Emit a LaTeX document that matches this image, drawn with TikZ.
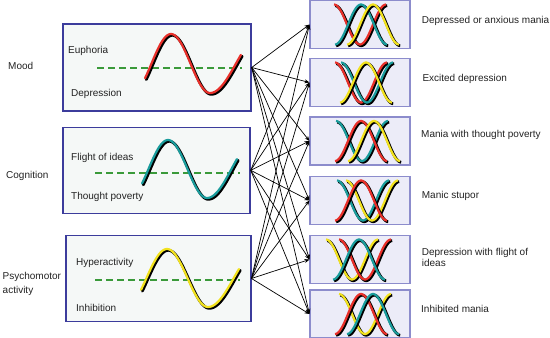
\documentclass[tikz,border=0pt]{standalone}
\usepackage{fontspec}
\setmainfont{Liberation Sans}
\usetikzlibrary{arrows.meta}
\definecolor{wred}{HTML}{E8302A}
\definecolor{wteal}{HTML}{1A9C9C}
\definecolor{wyel}{HTML}{F2E21E}
\definecolor{lborder}{HTML}{3C3C9C}
\definecolor{lfill}{HTML}{F5F8F7}
\definecolor{rborder}{HTML}{8C8CCC}
\definecolor{rfill}{HTML}{ECECF8}
\definecolor{dgreen}{HTML}{3A9A3A}
\definecolor{txt}{HTML}{222222}
\newcommand{\lwave}[8]{%
  \draw[line width=2.8pt, black, line cap=round, shift={(1.3,1.3)}]
    plot[domain=#6:270,samples=60] ({#2+(\x-90)/180*#3},{#4-#5*sin(\x)})
    -- plot[domain=0:#8,samples=30] ({#2+#3+\x/90*#7},{#4+#5*cos(\x)});
  \draw[line width=2.2pt, #1, line cap=round]
    plot[domain=#6:270,samples=60] ({#2+(\x-90)/180*#3},{#4-#5*sin(\x)})
    -- plot[domain=0:#8,samples=30] ({#2+#3+\x/90*#7},{#4+#5*cos(\x)});
}
\newcommand{\rwave}[4]{%
  \draw[line width=2.8pt, black, shift={(1.2,1.2)}]
    plot[domain=0:360,samples=50] ({#2+\x/360*52},{#3+(#4)*20*cos(\x)});
  \draw[line width=2.2pt, #1]
    plot[domain=0:360,samples=50] ({#2+\x/360*52},{#3+(#4)*20*cos(\x)});
}
\tikzset{
  lbl/.style={anchor=west, inner sep=0pt, text=txt, font=\fontsize{10}{12}\selectfont},
  lbox/.style={draw=lborder, line width=1.4pt, fill=lfill, inner sep=0pt},
  rbox/.style={draw=rborder, line width=1.1pt, fill=rfill, inner sep=0pt,
    minimum width=100pt, minimum height=48pt},
  mid/.style={draw=dgreen, line width=1.3pt, dash pattern=on 7pt off 4pt},
  arr/.style={-{Stealth[length=5pt,width=4pt]}, line width=0.7pt, black}
}
\begin{document}
\begin{tikzpicture}[x=1pt,y=-1pt]
\useasboundingbox (0,0) rectangle (550,338);
% left boxes
\node[lbox, minimum width=188pt, minimum height=87pt] (L1) at (157,67.5) {};
\node[lbox, minimum width=187pt, minimum height=86pt] (L2) at (156.5,170.3) {};
\node[lbox, minimum width=185pt, minimum height=86pt] (L3) at (158.3,278.5) {};
% right boxes
\node[rbox] (R1) at (360,24.5) {};
\node[rbox] (R2) at (360,82.5) {};
\node[rbox] (R3) at (360,141) {};
\node[rbox] (R4) at (360,200.5) {};
\node[rbox] (R5) at (360,259.5) {};
\node[rbox] (R6) at (360,314) {};
% dashed midlines
\coordinate (d1a) at (97,68); \coordinate (d1b) at (242,68);
\coordinate (d2a) at (95,173); \coordinate (d2b) at (240,173);
\coordinate (d3a) at (95,280); \coordinate (d3b) at (240,280);
\draw[mid] (d1a) -- (d1b);
\draw[mid] (d2a) -- (d2b);
\draw[mid] (d3a) -- (d3b);
% left waves
\lwave{wred}{171}{39}{63.5}{29.5}{-30}{26}{107}
\lwave{wteal}{168}{39}{169}{29}{-30}{24.5}{110}
\lwave{wyel}{167}{41}{278}{29}{-24}{25.8}{108}
% right waves
\rwave{wred}{334}{24.5}{-1}
\rwave{wteal}{335}{24.5}{1}
\rwave{wyel}{347}{24.5}{1}
\rwave{wred}{335}{82.5}{-1}
\rwave{wteal}{341}{82.5}{-1}
\rwave{wyel}{340}{82.5}{1}
\rwave{wteal}{336}{141}{-1}
\rwave{wred}{335}{141}{1}
\rwave{wyel}{348}{141}{1}
\rwave{wteal}{337}{200.5}{-1}
\rwave{wyel}{346}{200.5}{-1}
\rwave{wred}{335}{200.5}{1}
\rwave{wyel}{326}{259.5}{-1}
\rwave{wred}{339}{259.5}{-1}
\rwave{wteal}{333}{259.5}{1}
\rwave{wyel}{339}{314}{-1}
\rwave{wred}{335}{314}{1}
\rwave{wteal}{347}{314}{1}
% arrows
\foreach \s in {L1,L2,L3}{
  \foreach \t in {R1,R2,R3,R4,R5,R6}{
    \draw[arr] (\s.east) -- (\t.west);
  }
}
% labels
\node[lbl] (tmood) at (8,65.7) {Mood};
\node[lbl] (tcog) at (6,175.7) {Cognition};
\node[lbl, align=left, font=\fontsize{10}{14}\selectfont] (tpsy) at (2.5,283.7) {Psychomotor\\activity};
\node[lbl] (teu) at (68,50.7) {Euphoria};
\node[lbl] (tdep) at (71,94) {Depression};
\node[lbl] (tfl) at (71,157.7) {Flight of ideas};
\node[lbl] (ttp) at (71,197.3) {Thought poverty};
\node[lbl] (thy) at (76,263.3) {Hyperactivity};
\node[lbl] (tin) at (76,308.3) {Inhibition};
\node[lbl] (r1t) at (421.7,20.7) {Depressed or anxious mania};
\node[lbl] (r2t) at (422.3,79) {Excited depression};
\node[lbl] (r3t) at (421,135) {Mania with thought poverty};
\node[lbl] (r4t) at (421.7,196) {Manic stupor};
\node[lbl, align=left, font=\fontsize{10}{11.5}\selectfont] (r5t) at (421.7,257.2) {Depression with flight of\\ideas};
\node[lbl] (r6t) at (421,309.3) {Inhibited mania};
\end{tikzpicture}
\end{document}
